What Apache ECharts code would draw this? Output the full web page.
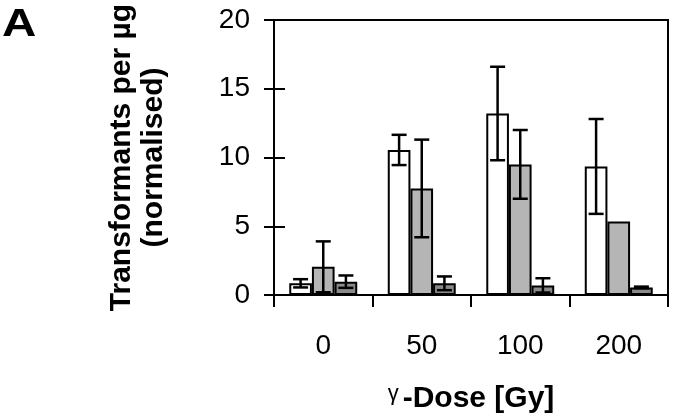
<!DOCTYPE html>
<html>
<head>
<meta charset="utf-8">
<script src="https://cdn.jsdelivr.net/npm/echarts@6/dist/echarts.min.js"></script>
<style>html,body{margin:0;padding:0;background:#fff;}#c{width:673px;height:419px;}</style>
</head>
<body>
<div id="c"></div>
<script>
var categories = ['0', '50', '100', '200'];
var whiteVals = [0.85, 10.55, 13.2, 9.35];
var whiteErr = [0.3, 1.1, 3.4, 3.45];
var lightVals = [2.05, 7.75, 9.5, 5.35];
var lightErr = [1.85, 3.55, 2.5, null];
var darkVals = [0.97, 0.85, 0.7, 0.55];
var darkErr = [0.45, 0.5, 0.52, 0.06];
var yTicks = [0, 5, 10, 15, 20];

var chart = echarts.init(document.getElementById('c'), null, {renderer: 'canvas'});
var FONT = '"Liberation Sans", Arial, sans-serif';
var BAR_FRAC = 0.23;

function errSeries(vals, errs, idx) {
  var data = [];
  for (var i = 0; i < vals.length; i++) {
    if (errs[i] != null) data.push([i, vals[i] - errs[i], vals[i] + errs[i]]);
  }
  return {
    type: 'custom',
    z: 10,
    data: data,
    renderItem: function (params, api) {
      var ci = api.value(0);
      var lo = api.coord([ci, api.value(1)]);
      var hi = api.coord([ci, api.value(2)]);
      var band = api.size([1, 0])[0];
      var bw = band * BAR_FRAC;
      var x = lo[0] + (idx - 1) * bw;
      var hw = 7.5;
      var st = {stroke: '#000', lineWidth: 2.5, fill: null};
      return {
        type: 'group',
        children: [
          {type: 'line', shape: {x1: x, y1: lo[1], x2: x, y2: hi[1]}, style: st},
          {type: 'line', shape: {x1: x - hw, y1: lo[1], x2: x + hw, y2: lo[1]}, style: st},
          {type: 'line', shape: {x1: x - hw, y1: hi[1], x2: x + hw, y2: hi[1]}, style: st}
        ]
      };
    }
  };
}

function barSeries(vals, color) {
  return {
    type: 'bar',
    data: vals,
    barWidth: (BAR_FRAC * 100) + '%',
    barGap: '0%',
    itemStyle: {color: color, borderColor: '#000', borderWidth: 2},
    silent: true
  };
}

var option = {
  animation: false,
  backgroundColor: '#fff',
  grid: {left: 274, right: 5, top: 20, bottom: 123, show: true, borderColor: '#000', borderWidth: 2, backgroundColor: 'transparent'},
  graphic: [
    {type: 'text', left: 2, top: 7, scaleX: 1.25, style: {text: 'A', font: 'bold 38px ' + FONT, fill: '#000'}}
  ],
  xAxis: {
    type: 'category',
    data: categories,
    axisLine: {lineStyle: {color: '#000', width: 2}},
    axisTick: {show: true, length: 12, lineStyle: {color: '#000', width: 2}},
    axisLabel: {color: '#000', fontSize: 28, fontFamily: FONT, margin: 37},
    name: '{g|γ}{d|-Dose [Gy]}',
    nameLocation: 'middle',
    nameGap: 88,
    nameTextStyle: {
      rich: {
        g: {fontSize: 22, fontFamily: FONT, color: '#000', verticalAlign: 'top', padding: [0, 4, 10, 0]},
        d: {fontSize: 30, fontWeight: 'bold', fontFamily: FONT, color: '#000'}
      }
    }
  },
  yAxis: [
    {
      type: 'value',
      min: 0, max: 20, interval: 5,
      axisLine: {show: true, lineStyle: {color: '#000', width: 2}},
      axisTick: {show: true, length: 10, lineStyle: {color: '#000', width: 2}},
      splitLine: {show: false},
      axisLabel: {color: '#000', fontSize: 28, fontFamily: FONT, margin: 24},
      name: 'Transformants per µg\n(normalised)',
      nameLocation: 'middle',
      nameGap: 104,
      nameTextStyle: {fontSize: 30, fontWeight: 'bold', fontFamily: FONT, color: '#000', lineHeight: 32}
    },
    {
      type: 'value',
      position: 'left',
      min: 0, max: 20, interval: 5,
      axisLine: {show: false},
      axisTick: {show: true, inside: true, length: 11, lineStyle: {color: '#000', width: 2}},
      axisLabel: {show: false},
      splitLine: {show: false}
    }
  ],
  series: [
    barSeries(whiteVals, '#ffffff'),
    barSeries(lightVals, '#b5b5b5'),
    barSeries(darkVals, '#8a8a8a'),
    errSeries(whiteVals, whiteErr, 0),
    errSeries(lightVals, lightErr, 1),
    errSeries(darkVals, darkErr, 2)
  ]
};
chart.setOption(option);
</script>
</body>
</html>
